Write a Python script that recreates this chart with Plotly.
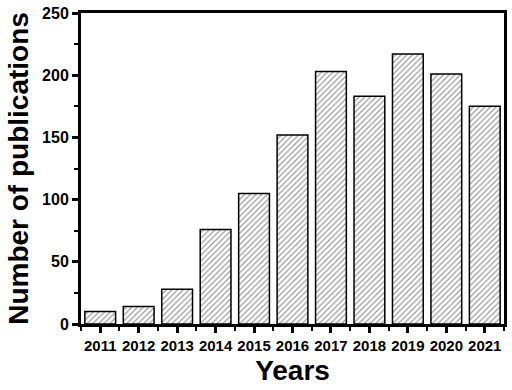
import plotly.graph_objects as go

years = [2011, 2012, 2013, 2014, 2015, 2016, 2017, 2018, 2019, 2020, 2021]
publications = [10, 14, 28, 76, 105, 152, 203, 183, 217, 201, 175]
y_ticks = [0, 50, 100, 150, 200, 250]

fig = go.Figure(go.Bar(
    x=years, y=publications, width=0.8,
    marker=dict(color="white", line=dict(color="black", width=1.5),
                pattern=dict(shape="/", fgcolor="#333333", bgcolor="white", size=4, solidity=0.3)),
))

font = "Liberation Sans, Arial, sans-serif"
fig.update_layout(
    width=512, height=390,
    margin=dict(l=81, r=5, t=12, b=66),
    plot_bgcolor="white", paper_bgcolor="white",
    showlegend=False,
    font=dict(family=font, color="black"),
    xaxis=dict(
        range=[2010.5, 2021.5], tickvals=years, ticktext=[str(y) for y in years],
        showgrid=False, zeroline=False, showline=True, linecolor="black", linewidth=3, mirror=True,
        ticks="outside", ticklen=6, tickwidth=3, tickcolor="black",
        tickfont=dict(size=15, family=font, weight="bold"),
        minor=dict(tick0=2010.5, dtick=1, ticks="outside", ticklen=4, tickwidth=2, tickcolor="black"),
        title=dict(text="<b>Years</b>", font=dict(size=28, family=font), standoff=8),
    ),
    yaxis=dict(
        range=[0, 250], tickvals=y_ticks,
        showgrid=False, zeroline=False, showline=True, linecolor="black", linewidth=3, mirror=True,
        ticks="outside", ticklen=6, tickwidth=3, tickcolor="black",
        tickfont=dict(size=16, family=font, weight="bold"),
        minor=dict(dtick=25, ticks="outside", ticklen=4, tickwidth=2, tickcolor="black"),
        title=dict(text="<b>Number of publications</b>", font=dict(size=28, family=font), standoff=6),
    ),
)

fig.write_html("out.html", config={"displayModeBar": False},
               post_script="document.body.style.margin='0';document.body.style.padding='0';")
